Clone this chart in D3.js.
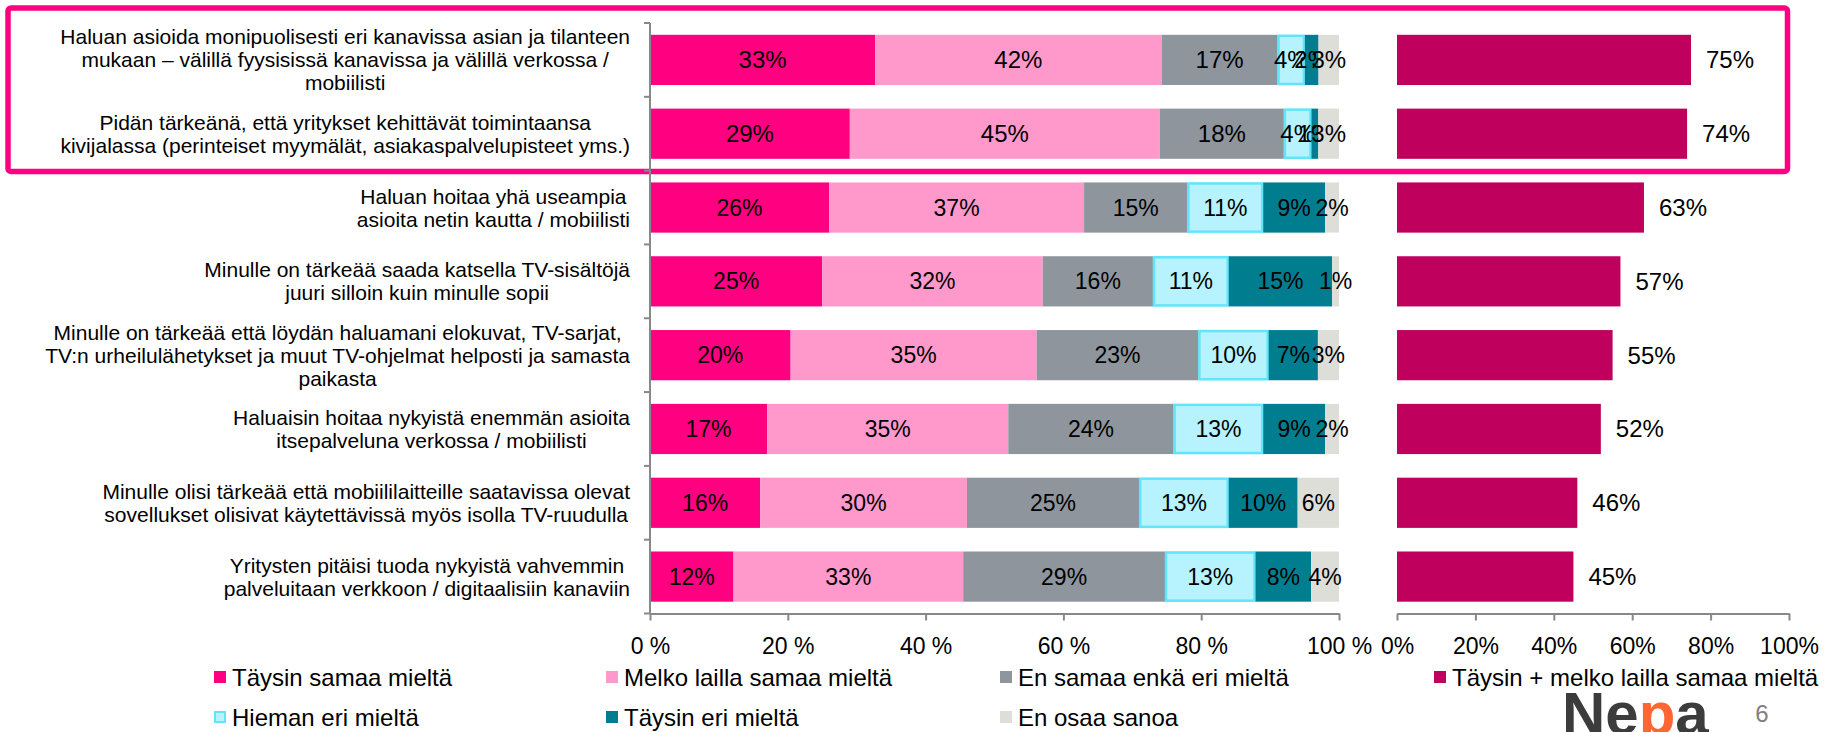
<!DOCTYPE html>
<html>
<head>
<meta charset="utf-8">
<script src="https://cdn.jsdelivr.net/npm/d3@7"></script>
<style>
  body { margin: 0; background: #fff; }
  svg { display: block; }
  .narrow { font-family: "Liberation Sans Narrow", "Arial Narrow", sans-serif; }
  .reg { font-family: "Liberation Sans", Arial, sans-serif; }
</style>
</head>
<body>
<div id="chart"></div>
<script>
// statements (one per bar row)
const statements = [
  ["Haluan asioida monipuolisesti eri kanavissa asian ja tilanteen", "mukaan \u2013 välillä fyysisissä kanavissa ja välillä verkossa /", "mobiilisti"],
  ["Pidän tärkeänä, että yritykset kehittävät toimintaansa", "kivijalassa (perinteiset myymälät, asiakaspalvelupisteet yms.)"],
  ["Haluan hoitaa yhä useampia", "asioita netin kautta / mobiilisti"],
  ["Minulle on tärkeää saada katsella TV-sisältöjä", "juuri silloin kuin minulle sopii"],
  ["Minulle on tärkeää että löydän haluamani elokuvat, TV-sarjat,", "TV:n urheilulähetykset ja muut TV-ohjelmat helposti ja samasta", "paikasta"],
  ["Haluaisin hoitaa nykyistä enemmän asioita", "itsepalveluna verkossa / mobiilisti"],
  ["Minulle olisi tärkeää että mobiililaitteille saatavissa olevat", "sovellukset olisivat käytettävissä myös isolla TV-ruudulla"],
  ["Yritysten pitäisi tuoda nykyistä vahvemmin", "palveluitaan verkkoon / digitaalisiin kanaviin"]
];

const seriesNames = ["Täysin samaa mieltä", "Melko lailla samaa mieltä", "En samaa enkä eri mieltä",
                     "Hieman eri mieltä", "Täysin eri mieltä", "En osaa sanoa"];

// values per series, one per statement (percent)
const taysinSamaa = [33, 29, 26, 25, 20, 17, 16, 12];
const melkoSamaa  = [42, 45, 37, 32, 35, 35, 30, 33];
const enSamaaEnka = [17, 18, 15, 16, 23, 24, 25, 29];
const hiemanEri   = [4, 4, 11, 11, 10, 13, 13, 13];
const taysinEri   = [2, 1, 9, 15, 7, 9, 10, 8];
const enOsaa      = [3, 3, 2, 1, 3, 2, 6, 4];

// täysin + melko lailla samaa mieltä
const totalName = "Täysin + melko lailla samaa mieltä";
const totalAgree = [75, 74, 63, 57, 55, 52, 46, 45];

const leftTickLabels  = ["0 %", "20 %", "40 %", "60 %", "80 %", "100 %"];
const rightTickLabels = ["0%", "20%", "40%", "60%", "80%", "100%"];
const tickValues = [0, 0.2, 0.4, 0.6, 0.8, 1];

const fills   = ["#FF0080", "#FF99CC", "#8E959D", "#B7F3FE", "#007E8F", "#DEDED9"];
const strokes = [null, null, null, "#62E4FA", null, null];
const totalColor = "#BF005C";
const boxColor = "#FF0080";

const width = 1826, height = 732;

const svg = d3.select("#chart").append("svg")
  .attr("width", width)
  .attr("height", height);

// build rows for the stack
const keys = d3.range(seriesNames.length);
const allSeries = [taysinSamaa, melkoSamaa, enSamaaEnka, hiemanEri, taysinEri, enOsaa];
const rows = statements.map((s, i) => {
  const r = { idx: i };
  keys.forEach(k => r[k] = allSeries[k][i]);
  return r;
});

// 100 % stacked, like the original
const stacked = d3.stack().keys(keys).offset(d3.stackOffsetExpand)(rows);

const y = d3.scaleBand()
  .domain(d3.range(statements.length))
  .range([23, 613.5])
  .paddingInner(0.32)
  .paddingOuter(0.16);

const x = d3.scaleLinear().domain([0, 1]).range([650, 1339]);
const x2 = d3.scaleLinear().domain([0, 100]).range([1397, 1789]);

// highlight box round the first two statements
svg.append("rect")
  .attr("x", 8).attr("y", 8)
  .attr("width", 1779.5).attr("height", 163.5)
  .attr("rx", 3)
  .attr("fill", "none")
  .attr("stroke", boxColor)
  .attr("stroke-width", 5.5);

// stacked bars
const layers = svg.append("g").selectAll("g")
  .data(stacked)
  .join("g")
    .attr("fill", d => fills[d.key]);

layers.selectAll("rect")
  .data(d => d.map(v => ({ v, key: d.key })))
  .join("rect")
    .attr("x", d => x(d.v[0]) + (strokes[d.key] ? 1 : 0))
    .attr("y", d => y(d.v.data.idx) + (strokes[d.key] ? 1 : 0))
    .attr("width", d => Math.max(0, x(d.v[1]) - x(d.v[0]) - (strokes[d.key] ? 2 : 0)))
    .attr("height", d => y.bandwidth() - (strokes[d.key] ? 2 : 0))
    .attr("stroke", d => strokes[d.key] || "none")
    .attr("stroke-width", 2.5);

// labels inside stacked bars
layers.selectAll("text")
  .data(d => d.map(v => ({ v, key: d.key })))
  .join("text")
    .attr("class", d => d.v.data.idx < 2 ? "narrow" : "reg")
    .attr("x", d => (x(d.v[0]) + x(d.v[1])) / 2)
    .attr("y", d => y(d.v.data.idx) + y.bandwidth() / 2)
    .attr("text-anchor", "middle")
    .attr("dominant-baseline", "central")
    .attr("font-size", d => d.v.data.idx < 2 ? 24 : 23)
    .attr("fill", "#000")
    .text(d => d.v.data[d.key] + "%");

// left axis line with ticks between categories
const axisColor = "#888888";
svg.append("line")
  .attr("x1", x(0)).attr("x2", x(0))
  .attr("y1", y.range()[0]).attr("y2", y.range()[1])
  .attr("stroke", axisColor).attr("stroke-width", 2);

svg.append("g").selectAll("line")
  .data(d3.range(statements.length + 1))
  .join("line")
    .attr("x1", x(0) - 6).attr("x2", x(0))
    .attr("y1", i => y.range()[0] + i * y.step())
    .attr("y2", i => y.range()[0] + i * y.step())
    .attr("stroke", axisColor).attr("stroke-width", 2);

// statement labels: block right aligned, lines centred in block
const labelRight = 630;
const lineH = 23;
statements.forEach((lines, i) => {
  const g = svg.append("g").attr("class", "narrow");
  const cy = y(i) + y.bandwidth() / 2;
  const t = g.selectAll("text")
    .data(lines)
    .join("text")
      .attr("y", (d, j) => cy + (j - (lines.length - 1) / 2) * lineH)
      .attr("dominant-baseline", "central")
      .attr("text-anchor", "middle")
      .attr("font-size", 21)
      .attr("fill", "#000")
      .text(d => d);
  let maxW = 0;
  t.each(function() { maxW = Math.max(maxW, this.getComputedTextLength()); });
  t.attr("x", labelRight - maxW / 2);
});

// bottom axes
const axisY = y.range()[1];
const axL = svg.append("g")
  .attr("transform", `translate(0,${axisY})`)
  .call(d3.axisBottom(x).tickValues(tickValues).tickSize(7).tickSizeOuter(0)
    .tickFormat((d, i) => leftTickLabels[i]));

const axR = svg.append("g")
  .attr("transform", `translate(0,${axisY})`)
  .call(d3.axisBottom(x2).tickValues(tickValues.map(v => v * 100)).tickSize(7).tickSizeOuter(0)
    .tickFormat((d, i) => rightTickLabels[i]));

[axL, axR].forEach(a => {
  a.select(".domain").attr("stroke", axisColor).attr("stroke-width", 2);
  a.selectAll(".tick line").attr("stroke", axisColor).attr("stroke-width", 2);
  a.selectAll(".tick text")
    .attr("class", "narrow")
    .attr("font-size", 23)
    .attr("fill", "#000")
    .attr("y", 24);
});

// total bars on the right
svg.append("g").selectAll("rect")
  .data(totalAgree)
  .join("rect")
    .attr("x", x2(0))
    .attr("y", (d, i) => y(i))
    .attr("width", d => x2(d) - x2(0))
    .attr("height", y.bandwidth())
    .attr("fill", totalColor);

svg.append("g").selectAll("text")
  .data(totalAgree)
  .join("text")
    .attr("class", "reg")
    .attr("x", d => x2(d) + 15)
    .attr("y", (d, i) => y(i) + y.bandwidth() / 2)
    .attr("dominant-baseline", "central")
    .attr("font-size", 24)
    .attr("fill", "#000")
    .text(d => d + "%");

// legend
const legendItems = [
  { name: seriesNames[0], fill: fills[0], stroke: null, x: 214, y: 677 },
  { name: seriesNames[1], fill: fills[1], stroke: null, x: 606, y: 677 },
  { name: seriesNames[2], fill: fills[2], stroke: null, x: 1000, y: 677 },
  { name: totalName, fill: totalColor, stroke: null, x: 1434, y: 677 },
  { name: seriesNames[3], fill: fills[3], stroke: strokes[3], x: 214, y: 717 },
  { name: seriesNames[4], fill: fills[4], stroke: null, x: 606, y: 717 },
  { name: seriesNames[5], fill: fills[5], stroke: null, x: 1000, y: 717 }
];

const lg = svg.append("g").selectAll("g")
  .data(legendItems)
  .join("g")
    .attr("transform", d => `translate(${d.x},${d.y})`);

lg.append("rect")
  .attr("x", d => d.stroke ? 1 : 0)
  .attr("y", d => d.stroke ? -5 : -6)
  .attr("width", d => d.stroke ? 10 : 12)
  .attr("height", d => d.stroke ? 10 : 12)
  .attr("fill", d => d.fill)
  .attr("stroke", d => d.stroke || "none")
  .attr("stroke-width", 2);

lg.append("text")
  .attr("class", "narrow")
  .attr("x", 18)
  .attr("dominant-baseline", "central")
  .attr("font-size", 24)
  .attr("fill", "#000")
  .text(d => d.name);

// logo and page number
const logo = svg.append("text")
  .attr("class", "reg")
  .attr("x", 1562).attr("y", 734)
  .attr("font-size", 60)
  .attr("font-weight", "bold")
  .attr("fill", "#3C3C3C");
logo.append("tspan").text("Ne");
logo.append("tspan").attr("fill", "#FF6633").text("p");
logo.append("tspan").text("a");

svg.append("text")
  .attr("class", "narrow")
  .attr("x", 1762).attr("y", 713)
  .attr("text-anchor", "middle")
  .attr("dominant-baseline", "central")
  .attr("font-size", 24)
  .attr("fill", "#808080")
  .text("6");
</script>
</body>
</html>
